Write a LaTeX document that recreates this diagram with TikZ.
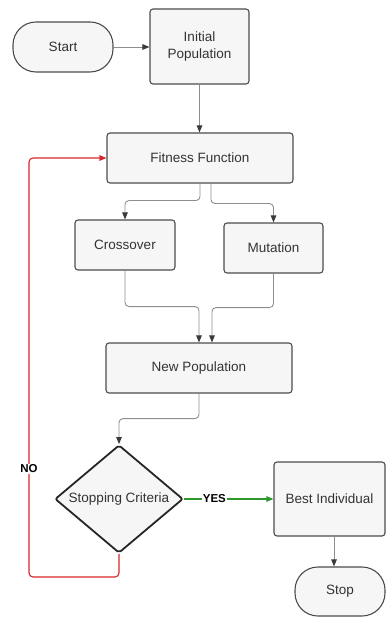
\documentclass[tikz,border=0pt]{standalone}
\usepackage{fontspec}
\setmainfont{Liberation Sans}
\usetikzlibrary{arrows.meta,shapes.geometric}
\definecolor{boxfill}{HTML}{F6F6F6}
\definecolor{boxborder}{HTML}{4D4D4D}
\definecolor{linegray}{HTML}{8E8E8E}
\definecolor{headgray}{HTML}{3A3A3A}
\definecolor{txt}{HTML}{333333}
\definecolor{nored}{HTML}{D9262B}
\definecolor{yesgreen}{HTML}{2E9A2E}
\begin{document}
\begin{tikzpicture}[x=1pt,y=-1pt,
  box/.style={draw=boxborder, fill=boxfill, rounded corners=3pt, line width=1.1pt,
    text=txt, font=\fontsize{13.5}{16.5}\selectfont, align=center, inner sep=0pt},
  term/.style={box, rounded corners=23pt},
  dec/.style={diamond, draw=black!85, fill=boxfill, line width=1.8pt, rounded corners=2pt,
    inner sep=0pt, minimum width=128pt, minimum height=108pt},
  lbl/.style={text=txt, font=\fontsize{13.5}{16.5}\selectfont, inner sep=0pt},
  arr/.style={draw=linegray, line width=0.9pt, rounded corners=4pt,
    -{Triangle[length=7pt,width=5.5pt,color=headgray]}},
  tag/.style={fill=white, font=\bfseries\fontsize{11.5}{13}\selectfont, inner sep=1pt}
]
\useasboundingbox (0,0) rectangle (385,617);

\node[term, minimum width=100pt, minimum height=50pt] (start) at (63,47) {Start};
\node[box, minimum width=99pt, minimum height=75pt] (init) at (199.5,46.5) {Initial\\Population};
\node[box, minimum width=186pt, minimum height=50pt] (fit) at (200,158) {Fitness Function};
\node[box, minimum width=100pt, minimum height=50pt] (cross) at (125,245) {Crossover};
\node[box, minimum width=99pt, minimum height=50pt] (mut) at (273.5,248) {Mutation};
\node[box, minimum width=186pt, minimum height=50pt] (np) at (199,368) {New Population};
\node[dec] (dc) at (119,499) {};
\node[lbl] (dct) at (119,499) {Stopping Criteria};
\node[box, minimum width=111pt, minimum height=74pt] (best) at (329.5,499) {Best Individual};
\node[term, minimum width=90pt, minimum height=49pt] (stop) at (340,591.5) {Stop};
\coordinate (nc) at (29,577);

\draw[arr] (start.east) -- (init.west |- start.east);
\draw[arr] (init.south) -- (init.south |- fit.north);
\draw[arr] (fit.south) -- ++(0,17) -| (cross.north);
\draw[arr] ([xshift=11pt]fit.south) -- ++(0,20) -| (mut.north);
\draw[arr] (cross.south) -- ++(0,36) -| (np.north);
\draw[arr] (mut.south) -- ++(0,34) -| ([xshift=13pt]np.north);
\draw[arr] (np.south) -- ++(0,25) -| (dc.north);
\draw[arr] ([xshift=4.5pt]best.south) -- ([xshift=4.5pt]best.south |- stop.north);

\draw[draw=yesgreen, line width=1.1pt, -{Triangle[length=7pt,width=5.5pt]}]
  (dc.east) -- node[tag, pos=0.34] {YES} (best.west);
\draw[draw=nored, line width=1.1pt, rounded corners=4pt, -{Triangle[length=7pt,width=5.5pt]}]
  (dc.south) |- (nc) |- (fit.west);
\node[tag] (no) at (29,469) {NO};
\end{tikzpicture}
\end{document}
